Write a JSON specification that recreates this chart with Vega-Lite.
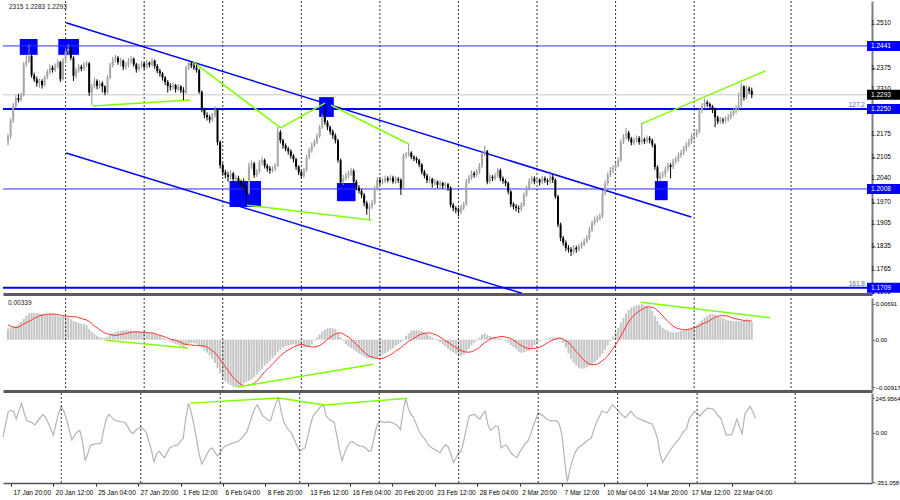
{
  "$schema": "https://vega.github.io/schema/vega-lite/v6.json",
  "background": "white",
  "padding": 0,
  "spacing": 0,
  "datasets": {
    "bars": [
      {"i":-3,"o":1.2150,"h":1.2175,"l":1.2140,"c":1.2168,"m":0.0021,"s":0.0028,"k":-30},
      {"i":-2,"o":1.2168,"h":1.2222,"l":1.2160,"c":1.2215,"m":0.0023,"s":0.0026,"k":60},
      {"i":-1,"o":1.2215,"h":1.2268,"l":1.2208,"c":1.2260,"m":0.0025,"s":0.0024,"k":150},
      {"i":0,"o":1.2260,"h":1.2292,"l":1.2252,"c":1.2283,"m":0.0027,"s":0.0023,"k":160},
      {"i":1,"o":1.2283,"h":1.2296,"l":1.2270,"c":1.2278,"m":0.0030,"s":0.0024,"k":150},
      {"i":2,"o":1.2278,"h":1.2300,"l":1.2272,"c":1.2292,"m":0.0034,"s":0.0027,"k":96},
      {"i":3,"o":1.2292,"h":1.2392,"l":1.2288,"c":1.2385,"m":0.0040,"s":0.0030,"k":160},
      {"i":4,"o":1.2385,"h":1.2412,"l":1.2378,"c":1.2395,"m":0.0046,"s":0.0033,"k":209},
      {"i":5,"o":1.2395,"h":1.2445,"l":1.2390,"c":1.2410,"m":0.0050,"s":0.0035,"k":140},
      {"i":6,"o":1.2410,"h":1.2415,"l":1.2345,"c":1.2352,"m":0.0051,"s":0.0038,"k":84},
      {"i":7,"o":1.2352,"h":1.2360,"l":1.2332,"c":1.2340,"m":0.0051,"s":0.0041,"k":78},
      {"i":8,"o":1.2340,"h":1.2348,"l":1.2318,"c":1.2328,"m":0.0051,"s":0.0043,"k":70},
      {"i":9,"o":1.2328,"h":1.2342,"l":1.2315,"c":1.2335,"m":0.0050,"s":0.0046,"k":55},
      {"i":10,"o":1.2335,"h":1.2340,"l":1.2312,"c":1.2322,"m":0.0049,"s":0.0047,"k":80},
      {"i":11,"o":1.2322,"h":1.2352,"l":1.2318,"c":1.2345,"m":0.0049,"s":0.0048,"k":105},
      {"i":12,"o":1.2345,"h":1.2370,"l":1.2340,"c":1.2362,"m":0.0049,"s":0.0049,"k":130},
      {"i":13,"o":1.2362,"h":1.2385,"l":1.2355,"c":1.2375,"m":0.0050,"s":0.0049,"k":110},
      {"i":14,"o":1.2375,"h":1.2382,"l":1.2360,"c":1.2368,"m":0.0050,"s":0.0049,"k":73},
      {"i":15,"o":1.2368,"h":1.2388,"l":1.2362,"c":1.2380,"m":0.0048,"s":0.0049,"k":30},
      {"i":16,"o":1.2380,"h":1.2400,"l":1.2372,"c":1.2392,"m":0.0046,"s":0.0048,"k":-18},
      {"i":17,"o":1.2392,"h":1.2396,"l":1.2332,"c":1.2340,"m":0.0044,"s":0.0047,"k":60},
      {"i":18,"o":1.2340,"h":1.2405,"l":1.2336,"c":1.2398,"m":0.0045,"s":0.0046,"k":140},
      {"i":19,"o":1.2398,"h":1.2436,"l":1.2390,"c":1.2425,"m":0.0046,"s":0.0045,"k":187},
      {"i":20,"o":1.2425,"h":1.2447,"l":1.2412,"c":1.2432,"m":0.0043,"s":0.0045,"k":150},
      {"i":21,"o":1.2432,"h":1.2438,"l":1.2398,"c":1.2405,"m":0.0039,"s":0.0044,"k":96},
      {"i":22,"o":1.2405,"h":1.2410,"l":1.2335,"c":1.2350,"m":0.0036,"s":0.0044,"k":20},
      {"i":23,"o":1.2350,"h":1.2375,"l":1.2342,"c":1.2368,"m":0.0034,"s":0.0044,"k":-52},
      {"i":24,"o":1.2368,"h":1.2386,"l":1.2360,"c":1.2378,"m":0.0032,"s":0.0042,"k":-20},
      {"i":25,"o":1.2378,"h":1.2384,"l":1.2364,"c":1.2372,"m":0.0031,"s":0.0041,"k":5},
      {"i":26,"o":1.2372,"h":1.2392,"l":1.2366,"c":1.2384,"m":0.0030,"s":0.0039,"k":16},
      {"i":27,"o":1.2384,"h":1.2396,"l":1.2376,"c":1.2388,"m":0.0028,"s":0.0038,"k":-60},
      {"i":28,"o":1.2388,"h":1.2392,"l":1.2290,"c":1.2300,"m":0.0020,"s":0.0035,"k":-200},
      {"i":29,"o":1.2300,"h":1.2326,"l":1.2262,"c":1.2318,"m":0.0015,"s":0.0031,"k":-150},
      {"i":30,"o":1.2318,"h":1.2345,"l":1.2312,"c":1.2335,"m":0.0011,"s":0.0026,"k":-90},
      {"i":31,"o":1.2335,"h":1.2340,"l":1.2310,"c":1.2320,"m":0.0007,"s":0.0023,"k":-85},
      {"i":32,"o":1.2320,"h":1.2336,"l":1.2312,"c":1.2328,"m":0.0005,"s":0.0019,"k":-80},
      {"i":33,"o":1.2328,"h":1.2334,"l":1.2300,"c":1.2318,"m":0.0004,"s":0.0016,"k":-78},
      {"i":34,"o":1.2318,"h":1.2322,"l":1.2292,"c":1.2300,"m":0.0004,"s":0.0013,"k":-75},
      {"i":35,"o":1.2300,"h":1.2352,"l":1.2296,"c":1.2345,"m":0.0006,"s":0.0011,"k":20},
      {"i":36,"o":1.2345,"h":1.2390,"l":1.2340,"c":1.2382,"m":0.0009,"s":0.0010,"k":100},
      {"i":37,"o":1.2382,"h":1.2408,"l":1.2376,"c":1.2398,"m":0.0012,"s":0.0009,"k":130},
      {"i":38,"o":1.2398,"h":1.2414,"l":1.2390,"c":1.2405,"m":0.0015,"s":0.0008,"k":110},
      {"i":39,"o":1.2405,"h":1.2410,"l":1.2384,"c":1.2392,"m":0.0016,"s":0.0009,"k":90},
      {"i":40,"o":1.2392,"h":1.2404,"l":1.2380,"c":1.2396,"m":0.0017,"s":0.0010,"k":84},
      {"i":41,"o":1.2396,"h":1.2400,"l":1.2368,"c":1.2378,"m":0.0018,"s":0.0011,"k":80},
      {"i":42,"o":1.2378,"h":1.2392,"l":1.2370,"c":1.2382,"m":0.0018,"s":0.0012,"k":76},
      {"i":43,"o":1.2382,"h":1.2404,"l":1.2376,"c":1.2395,"m":0.0018,"s":0.0013,"k":73},
      {"i":44,"o":1.2395,"h":1.2410,"l":1.2388,"c":1.2402,"m":0.0018,"s":0.0014,"k":45},
      {"i":45,"o":1.2402,"h":1.2406,"l":1.2378,"c":1.2385,"m":0.0017,"s":0.0015,"k":10},
      {"i":46,"o":1.2385,"h":1.2390,"l":1.2360,"c":1.2370,"m":0.0017,"s":0.0015,"k":-7},
      {"i":47,"o":1.2370,"h":1.2388,"l":1.2364,"c":1.2380,"m":0.0016,"s":0.0015,"k":15},
      {"i":48,"o":1.2380,"h":1.2396,"l":1.2374,"c":1.2388,"m":0.0015,"s":0.0014,"k":30},
      {"i":49,"o":1.2388,"h":1.2392,"l":1.2370,"c":1.2378,"m":0.0015,"s":0.0014,"k":39},
      {"i":50,"o":1.2378,"h":1.2398,"l":1.2372,"c":1.2390,"m":0.0014,"s":0.0014,"k":25},
      {"i":51,"o":1.2390,"h":1.2394,"l":1.2376,"c":1.2384,"m":0.0013,"s":0.0013,"k":5},
      {"i":52,"o":1.2384,"h":1.2404,"l":1.2378,"c":1.2396,"m":0.0013,"s":0.0013,"k":-60},
      {"i":53,"o":1.2396,"h":1.2400,"l":1.2372,"c":1.2380,"m":0.0012,"s":0.0012,"k":-121},
      {"i":54,"o":1.2380,"h":1.2386,"l":1.2358,"c":1.2365,"m":0.0010,"s":0.0010,"k":-212},
      {"i":55,"o":1.2365,"h":1.2372,"l":1.2348,"c":1.2358,"m":0.0007,"s":0.0008,"k":-150},
      {"i":56,"o":1.2358,"h":1.2362,"l":1.2336,"c":1.2345,"m":0.0004,"s":0.0007,"k":-132},
      {"i":57,"o":1.2345,"h":1.2350,"l":1.2322,"c":1.2332,"m":0.0002,"s":0.0005,"k":-160},
      {"i":58,"o":1.2332,"h":1.2338,"l":1.2300,"c":1.2320,"m":-0.0001,"s":0.0003,"k":-178},
      {"i":59,"o":1.2320,"h":1.2328,"l":1.2306,"c":1.2316,"m":-0.0004,"s":0.0001,"k":-140},
      {"i":60,"o":1.2316,"h":1.2330,"l":1.2308,"c":1.2322,"m":-0.0006,"s":0.0000,"k":-105},
      {"i":61,"o":1.2322,"h":1.2326,"l":1.2300,"c":1.2310,"m":-0.0008,"s":-0.0001,"k":-98},
      {"i":62,"o":1.2310,"h":1.2326,"l":1.2304,"c":1.2318,"m":-0.0010,"s":-0.0003,"k":-90},
      {"i":63,"o":1.2318,"h":1.2322,"l":1.2298,"c":1.2306,"m":-0.0012,"s":-0.0005,"k":-87},
      {"i":64,"o":1.2306,"h":1.2316,"l":1.2277,"c":1.2300,"m":-0.0014,"s":-0.0008,"k":-60},
      {"i":65,"o":1.2300,"h":1.2382,"l":1.2295,"c":1.2375,"m":-0.0011,"s":-0.0009,"k":-41},
      {"i":66,"o":1.2375,"h":1.2395,"l":1.2368,"c":1.2388,"m":-0.0008,"s":-0.0010,"k":100},
      {"i":67,"o":1.2388,"h":1.2394,"l":1.2374,"c":1.2382,"m":-0.0007,"s":-0.0010,"k":209},
      {"i":68,"o":1.2382,"h":1.2390,"l":1.2368,"c":1.2376,"m":-0.0006,"s":-0.0011,"k":150},
      {"i":69,"o":1.2376,"h":1.2384,"l":1.2360,"c":1.2368,"m":-0.0008,"s":-0.0011,"k":60},
      {"i":70,"o":1.2368,"h":1.2372,"l":1.2296,"c":1.2302,"m":-0.0011,"s":-0.0011,"k":-40},
      {"i":71,"o":1.2302,"h":1.2306,"l":1.2240,"c":1.2248,"m":-0.0015,"s":-0.0012,"k":-150},
      {"i":72,"o":1.2248,"h":1.2254,"l":1.2222,"c":1.2232,"m":-0.0020,"s":-0.0012,"k":-223},
      {"i":73,"o":1.2232,"h":1.2240,"l":1.2215,"c":1.2225,"m":-0.0025,"s":-0.0014,"k":-190},
      {"i":74,"o":1.2225,"h":1.2232,"l":1.2208,"c":1.2218,"m":-0.0030,"s":-0.0017,"k":-150},
      {"i":75,"o":1.2218,"h":1.2238,"l":1.2212,"c":1.2230,"m":-0.0037,"s":-0.0021,"k":-120},
      {"i":76,"o":1.2230,"h":1.2258,"l":1.2224,"c":1.2248,"m":-0.0045,"s":-0.0025,"k":-109},
      {"i":77,"o":1.2248,"h":1.2252,"l":1.2140,"c":1.2150,"m":-0.0055,"s":-0.0031,"k":-140},
      {"i":78,"o":1.2150,"h":1.2155,"l":1.2070,"c":1.2080,"m":-0.0065,"s":-0.0038,"k":-166},
      {"i":79,"o":1.2080,"h":1.2086,"l":1.2048,"c":1.2058,"m":-0.0073,"s":-0.0045,"k":-140},
      {"i":80,"o":1.2058,"h":1.2066,"l":1.2040,"c":1.2050,"m":-0.0080,"s":-0.0052,"k":-110},
      {"i":81,"o":1.2050,"h":1.2060,"l":1.2030,"c":1.2045,"m":-0.0084,"s":-0.0059,"k":-95},
      {"i":82,"o":1.2045,"h":1.2064,"l":1.2036,"c":1.2055,"m":-0.0087,"s":-0.0066,"k":-87},
      {"i":83,"o":1.2055,"h":1.2060,"l":1.2026,"c":1.2038,"m":-0.0090,"s":-0.0073,"k":-80},
      {"i":84,"o":1.2038,"h":1.2050,"l":1.2030,"c":1.2042,"m":-0.0091,"s":-0.0078,"k":-72},
      {"i":85,"o":1.2042,"h":1.2048,"l":1.2020,"c":1.2030,"m":-0.0090,"s":-0.0082,"k":-66},
      {"i":86,"o":1.2030,"h":1.2036,"l":1.2012,"c":1.2022,"m":-0.0088,"s":-0.0086,"k":-60},
      {"i":87,"o":1.2022,"h":1.2040,"l":1.2005,"c":1.2015,"m":-0.0084,"s":-0.0088,"k":-40},
      {"i":88,"o":1.2015,"h":1.2020,"l":1.1960,"c":1.1995,"m":-0.0081,"s":-0.0088,"k":-20},
      {"i":89,"o":1.1995,"h":1.2088,"l":1.1990,"c":1.2075,"m":-0.0079,"s":-0.0087,"k":5},
      {"i":90,"o":1.2075,"h":1.2094,"l":1.2068,"c":1.2085,"m":-0.0076,"s":-0.0086,"k":60},
      {"i":91,"o":1.2085,"h":1.2090,"l":1.2042,"c":1.2050,"m":-0.0072,"s":-0.0084,"k":120},
      {"i":92,"o":1.2050,"h":1.2068,"l":1.2044,"c":1.2060,"m":-0.0067,"s":-0.0079,"k":170},
      {"i":93,"o":1.2060,"h":1.2096,"l":1.2055,"c":1.2088,"m":-0.0061,"s":-0.0074,"k":198},
      {"i":94,"o":1.2088,"h":1.2104,"l":1.2080,"c":1.2095,"m":-0.0056,"s":-0.0068,"k":160},
      {"i":95,"o":1.2095,"h":1.2100,"l":1.2070,"c":1.2078,"m":-0.0050,"s":-0.0062,"k":120},
      {"i":96,"o":1.2078,"h":1.2084,"l":1.2060,"c":1.2070,"m":-0.0046,"s":-0.0057,"k":107},
      {"i":97,"o":1.2070,"h":1.2078,"l":1.2054,"c":1.2064,"m":-0.0041,"s":-0.0052,"k":90},
      {"i":98,"o":1.2064,"h":1.2076,"l":1.2058,"c":1.2068,"m":-0.0036,"s":-0.0047,"k":84},
      {"i":99,"o":1.2068,"h":1.2086,"l":1.2062,"c":1.2078,"m":-0.0030,"s":-0.0042,"k":150},
      {"i":100,"o":1.2078,"h":1.2195,"l":1.2074,"c":1.2180,"m":-0.0024,"s":-0.0036,"k":210},
      {"i":101,"o":1.2180,"h":1.2186,"l":1.2146,"c":1.2155,"m":-0.0019,"s":-0.0031,"k":246},
      {"i":102,"o":1.2155,"h":1.2160,"l":1.2130,"c":1.2140,"m":-0.0015,"s":-0.0027,"k":150},
      {"i":103,"o":1.2140,"h":1.2146,"l":1.2122,"c":1.2130,"m":-0.0012,"s":-0.0023,"k":73},
      {"i":104,"o":1.2130,"h":1.2136,"l":1.2112,"c":1.2122,"m":-0.0011,"s":-0.0020,"k":40},
      {"i":105,"o":1.2122,"h":1.2128,"l":1.2100,"c":1.2108,"m":-0.0010,"s":-0.0017,"k":15},
      {"i":106,"o":1.2108,"h":1.2114,"l":1.2088,"c":1.2098,"m":-0.0009,"s":-0.0014,"k":-7},
      {"i":107,"o":1.2098,"h":1.2102,"l":1.2066,"c":1.2075,"m":-0.0010,"s":-0.0012,"k":-50},
      {"i":108,"o":1.2075,"h":1.2080,"l":1.2050,"c":1.2058,"m":-0.0012,"s":-0.0010,"k":-95},
      {"i":109,"o":1.2058,"h":1.2064,"l":1.2040,"c":1.2048,"m":-0.0013,"s":-0.0009,"k":-132},
      {"i":110,"o":1.2048,"h":1.2072,"l":1.2042,"c":1.2065,"m":-0.0014,"s":-0.0010,"k":-120},
      {"i":111,"o":1.2065,"h":1.2112,"l":1.2060,"c":1.2105,"m":-0.0014,"s":-0.0012,"k":-109},
      {"i":112,"o":1.2105,"h":1.2132,"l":1.2098,"c":1.2125,"m":-0.0012,"s":-0.0013,"k":-30},
      {"i":113,"o":1.2125,"h":1.2148,"l":1.2118,"c":1.2140,"m":-0.0009,"s":-0.0014,"k":50},
      {"i":114,"o":1.2140,"h":1.2158,"l":1.2134,"c":1.2150,"m":-0.0002,"s":-0.0014,"k":118},
      {"i":115,"o":1.2150,"h":1.2176,"l":1.2144,"c":1.2168,"m":0.0004,"s":-0.0013,"k":140},
      {"i":116,"o":1.2168,"h":1.2202,"l":1.2162,"c":1.2195,"m":0.0010,"s":-0.0011,"k":165},
      {"i":117,"o":1.2195,"h":1.2236,"l":1.2190,"c":1.2228,"m":0.0016,"s":-0.0008,"k":187},
      {"i":118,"o":1.2228,"h":1.2265,"l":1.2202,"c":1.2210,"m":0.0019,"s":-0.0004,"k":196},
      {"i":119,"o":1.2210,"h":1.2216,"l":1.2186,"c":1.2195,"m":0.0022,"s":0.0001,"k":120},
      {"i":120,"o":1.2195,"h":1.2200,"l":1.2172,"c":1.2182,"m":0.0022,"s":0.0005,"k":96},
      {"i":121,"o":1.2182,"h":1.2188,"l":1.2160,"c":1.2170,"m":0.0022,"s":0.0008,"k":85},
      {"i":122,"o":1.2170,"h":1.2176,"l":1.2146,"c":1.2155,"m":0.0020,"s":0.0011,"k":73},
      {"i":123,"o":1.2155,"h":1.2160,"l":1.2088,"c":1.2095,"m":0.0012,"s":0.0013,"k":-20},
      {"i":124,"o":1.2095,"h":1.2100,"l":1.2018,"c":1.2028,"m":0.0005,"s":0.0013,"k":-120},
      {"i":125,"o":1.2028,"h":1.2050,"l":1.2020,"c":1.2040,"m":-0.0002,"s":0.0011,"k":-200},
      {"i":126,"o":1.2040,"h":1.2058,"l":1.2034,"c":1.2048,"m":-0.0008,"s":0.0008,"k":-140},
      {"i":127,"o":1.2048,"h":1.2064,"l":1.2040,"c":1.2055,"m":-0.0013,"s":0.0005,"k":-100},
      {"i":128,"o":1.2055,"h":1.2072,"l":1.2048,"c":1.2062,"m":-0.0016,"s":0.0001,"k":-70},
      {"i":129,"o":1.2062,"h":1.2068,"l":1.2022,"c":1.2030,"m":-0.0019,"s":-0.0004,"k":-64},
      {"i":130,"o":1.2030,"h":1.2036,"l":1.2004,"c":1.2012,"m":-0.0023,"s":-0.0009,"k":-80},
      {"i":131,"o":1.2012,"h":1.2020,"l":1.1994,"c":1.2002,"m":-0.0026,"s":-0.0014,"k":-91},
      {"i":132,"o":1.2002,"h":1.2008,"l":1.1980,"c":1.1990,"m":-0.0029,"s":-0.0019,"k":-95},
      {"i":133,"o":1.1990,"h":1.1996,"l":1.1955,"c":1.1965,"m":-0.0032,"s":-0.0024,"k":-98},
      {"i":134,"o":1.1965,"h":1.1972,"l":1.1930,"c":1.1948,"m":-0.0035,"s":-0.0028,"k":-110},
      {"i":135,"o":1.1948,"h":1.1964,"l":1.1914,"c":1.1955,"m":-0.0036,"s":-0.0032,"k":-132},
      {"i":136,"o":1.1955,"h":1.1974,"l":1.1948,"c":1.1965,"m":-0.0036,"s":-0.0033,"k":-125},
      {"i":137,"o":1.1965,"h":1.2018,"l":1.1960,"c":1.2010,"m":-0.0036,"s":-0.0035,"k":-40},
      {"i":138,"o":1.2010,"h":1.2044,"l":1.2004,"c":1.2035,"m":-0.0035,"s":-0.0036,"k":40},
      {"i":139,"o":1.2035,"h":1.2042,"l":1.2020,"c":1.2028,"m":-0.0032,"s":-0.0036,"k":84},
      {"i":140,"o":1.2028,"h":1.2040,"l":1.2022,"c":1.2032,"m":-0.0029,"s":-0.0036,"k":78},
      {"i":141,"o":1.2032,"h":1.2048,"l":1.2026,"c":1.2040,"m":-0.0026,"s":-0.0034,"k":73},
      {"i":142,"o":1.2040,"h":1.2046,"l":1.2028,"c":1.2035,"m":-0.0023,"s":-0.0032,"k":75},
      {"i":143,"o":1.2035,"h":1.2050,"l":1.2030,"c":1.2042,"m":-0.0019,"s":-0.0029,"k":77},
      {"i":144,"o":1.2042,"h":1.2048,"l":1.2024,"c":1.2030,"m":-0.0016,"s":-0.0026,"k":70},
      {"i":145,"o":1.2030,"h":1.2046,"l":1.2024,"c":1.2038,"m":-0.0012,"s":-0.0022,"k":60},
      {"i":146,"o":1.2038,"h":1.2044,"l":1.2026,"c":1.2035,"m":-0.0009,"s":-0.0019,"k":50},
      {"i":147,"o":1.2035,"h":1.2040,"l":1.1990,"c":1.2010,"m":-0.0005,"s":-0.0015,"k":20},
      {"i":148,"o":1.2010,"h":1.2116,"l":1.2006,"c":1.2108,"m":0.0001,"s":-0.0011,"k":150},
      {"i":149,"o":1.2108,"h":1.2120,"l":1.2100,"c":1.2112,"m":0.0007,"s":-0.0007,"k":244},
      {"i":150,"o":1.2112,"h":1.2144,"l":1.2106,"c":1.2118,"m":0.0012,"s":-0.0003,"k":170},
      {"i":151,"o":1.2118,"h":1.2122,"l":1.2098,"c":1.2105,"m":0.0017,"s":-0.0001,"k":130},
      {"i":152,"o":1.2105,"h":1.2110,"l":1.2092,"c":1.2100,"m":0.0018,"s":0.0003,"k":107},
      {"i":153,"o":1.2100,"h":1.2106,"l":1.2086,"c":1.2095,"m":0.0018,"s":0.0006,"k":60},
      {"i":154,"o":1.2095,"h":1.2100,"l":1.2074,"c":1.2082,"m":0.0017,"s":0.0009,"k":10},
      {"i":155,"o":1.2082,"h":1.2086,"l":1.2052,"c":1.2060,"m":0.0016,"s":0.0011,"k":-20},
      {"i":156,"o":1.2060,"h":1.2066,"l":1.2040,"c":1.2048,"m":0.0014,"s":0.0012,"k":-41},
      {"i":157,"o":1.2048,"h":1.2054,"l":1.2026,"c":1.2035,"m":0.0011,"s":0.0013,"k":-70},
      {"i":158,"o":1.2035,"h":1.2046,"l":1.2028,"c":1.2038,"m":0.0007,"s":0.0013,"k":-95},
      {"i":159,"o":1.2038,"h":1.2042,"l":1.2012,"c":1.2025,"m":0.0004,"s":0.0012,"k":-109},
      {"i":160,"o":1.2025,"h":1.2038,"l":1.2018,"c":1.2030,"m":0.0001,"s":0.0010,"k":-120},
      {"i":161,"o":1.2030,"h":1.2034,"l":1.2010,"c":1.2020,"m":-0.0002,"s":0.0008,"k":-132},
      {"i":162,"o":1.2020,"h":1.2034,"l":1.2012,"c":1.2026,"m":-0.0005,"s":0.0005,"k":-143},
      {"i":163,"o":1.2026,"h":1.2030,"l":1.2008,"c":1.2018,"m":-0.0009,"s":0.0002,"k":-110},
      {"i":164,"o":1.2018,"h":1.2030,"l":1.2010,"c":1.2022,"m":-0.0013,"s":-0.0002,"k":-87},
      {"i":165,"o":1.2022,"h":1.2026,"l":1.2002,"c":1.2012,"m":-0.0017,"s":-0.0005,"k":-100},
      {"i":166,"o":1.2012,"h":1.2016,"l":1.1952,"c":1.1960,"m":-0.0021,"s":-0.0008,"k":-150},
      {"i":167,"o":1.1960,"h":1.1966,"l":1.1940,"c":1.1950,"m":-0.0024,"s":-0.0012,"k":-212},
      {"i":168,"o":1.1950,"h":1.1956,"l":1.1934,"c":1.1945,"m":-0.0027,"s":-0.0015,"k":-180},
      {"i":169,"o":1.1945,"h":1.1952,"l":1.1925,"c":1.1940,"m":-0.0030,"s":-0.0018,"k":-140},
      {"i":170,"o":1.1940,"h":1.1960,"l":1.1932,"c":1.1952,"m":-0.0031,"s":-0.0021,"k":-132},
      {"i":171,"o":1.1952,"h":1.1970,"l":1.1944,"c":1.1962,"m":-0.0029,"s":-0.0023,"k":-50},
      {"i":172,"o":1.1962,"h":1.2038,"l":1.1958,"c":1.2030,"m":-0.0023,"s":-0.0024,"k":40},
      {"i":173,"o":1.2030,"h":1.2050,"l":1.2024,"c":1.2042,"m":-0.0017,"s":-0.0024,"k":118},
      {"i":174,"o":1.2042,"h":1.2064,"l":1.2036,"c":1.2055,"m":-0.0011,"s":-0.0023,"k":125},
      {"i":175,"o":1.2055,"h":1.2062,"l":1.2042,"c":1.2050,"m":-0.0006,"s":-0.0021,"k":130},
      {"i":176,"o":1.2050,"h":1.2068,"l":1.2044,"c":1.2060,"m":-0.0002,"s":-0.0018,"k":110},
      {"i":177,"o":1.2060,"h":1.2086,"l":1.2054,"c":1.2078,"m":0.0004,"s":-0.0015,"k":96},
      {"i":178,"o":1.2078,"h":1.2124,"l":1.2072,"c":1.2115,"m":0.0010,"s":-0.0010,"k":130},
      {"i":179,"o":1.2115,"h":1.2138,"l":1.2108,"c":1.2122,"m":0.0012,"s":-0.0006,"k":153},
      {"i":180,"o":1.2122,"h":1.2126,"l":1.2022,"c":1.2030,"m":0.0009,"s":-0.0003,"k":60},
      {"i":181,"o":1.2030,"h":1.2052,"l":1.2024,"c":1.2045,"m":0.0007,"s":0.0001,"k":16},
      {"i":182,"o":1.2045,"h":1.2050,"l":1.2032,"c":1.2040,"m":0.0005,"s":0.0003,"k":30},
      {"i":183,"o":1.2040,"h":1.2056,"l":1.2034,"c":1.2048,"m":0.0004,"s":0.0004,"k":50},
      {"i":184,"o":1.2048,"h":1.2072,"l":1.2042,"c":1.2065,"m":0.0003,"s":0.0005,"k":40},
      {"i":185,"o":1.2065,"h":1.2070,"l":1.2032,"c":1.2040,"m":0.0003,"s":0.0006,"k":-109},
      {"i":186,"o":1.2040,"h":1.2046,"l":1.2024,"c":1.2032,"m":0.0000,"s":0.0006,"k":-95},
      {"i":187,"o":1.2032,"h":1.2038,"l":1.2016,"c":1.2025,"m":-0.0003,"s":0.0005,"k":-87},
      {"i":188,"o":1.2025,"h":1.2030,"l":1.1992,"c":1.2000,"m":-0.0006,"s":0.0004,"k":-120},
      {"i":189,"o":1.2000,"h":1.2004,"l":1.1954,"c":1.1962,"m":-0.0010,"s":0.0002,"k":-150},
      {"i":190,"o":1.1962,"h":1.1968,"l":1.1946,"c":1.1955,"m":-0.0014,"s":-0.0001,"k":-165},
      {"i":191,"o":1.1955,"h":1.1962,"l":1.1940,"c":1.1950,"m":-0.0018,"s":-0.0004,"k":-178},
      {"i":192,"o":1.1950,"h":1.1958,"l":1.1935,"c":1.1948,"m":-0.0023,"s":-0.0008,"k":-140},
      {"i":193,"o":1.1948,"h":1.1968,"l":1.1940,"c":1.1960,"m":-0.0025,"s":-0.0011,"k":-110},
      {"i":194,"o":1.1960,"h":1.1998,"l":1.1954,"c":1.1990,"m":-0.0024,"s":-0.0014,"k":-80},
      {"i":195,"o":1.1990,"h":1.2018,"l":1.1984,"c":1.2010,"m":-0.0022,"s":-0.0016,"k":-64},
      {"i":196,"o":1.2010,"h":1.2040,"l":1.2004,"c":1.2032,"m":-0.0021,"s":-0.0017,"k":-20},
      {"i":197,"o":1.2032,"h":1.2048,"l":1.2024,"c":1.2040,"m":-0.0016,"s":-0.0017,"k":39},
      {"i":198,"o":1.2040,"h":1.2046,"l":1.2022,"c":1.2030,"m":-0.0011,"s":-0.0017,"k":90},
      {"i":199,"o":1.2030,"h":1.2044,"l":1.2024,"c":1.2036,"m":-0.0006,"s":-0.0016,"k":141},
      {"i":200,"o":1.2036,"h":1.2040,"l":1.2018,"c":1.2028,"m":-0.0003,"s":-0.0015,"k":130},
      {"i":201,"o":1.2028,"h":1.2048,"l":1.2022,"c":1.2040,"m":-0.0001,"s":-0.0012,"k":118},
      {"i":202,"o":1.2040,"h":1.2046,"l":1.2026,"c":1.2034,"m":0.0001,"s":-0.0009,"k":100},
      {"i":203,"o":1.2034,"h":1.2040,"l":1.2020,"c":1.2030,"m":0.0002,"s":-0.0006,"k":90},
      {"i":204,"o":1.2030,"h":1.2062,"l":1.2024,"c":1.2045,"m":0.0004,"s":-0.0003,"k":84},
      {"i":205,"o":1.2045,"h":1.2052,"l":1.2026,"c":1.2035,"m":0.0004,"s":-0.0001,"k":84},
      {"i":206,"o":1.2035,"h":1.2040,"l":1.1978,"c":1.1985,"m":0.0004,"s":0.0001,"k":84},
      {"i":207,"o":1.1985,"h":1.1990,"l":1.1892,"c":1.1900,"m":0.0003,"s":0.0003,"k":60},
      {"i":208,"o":1.1900,"h":1.1906,"l":1.1850,"c":1.1860,"m":0.0003,"s":0.0003,"k":-18},
      {"i":209,"o":1.1860,"h":1.1866,"l":1.1836,"c":1.1845,"m":-0.0006,"s":0.0001,"k":-200},
      {"i":210,"o":1.1845,"h":1.1852,"l":1.1820,"c":1.1830,"m":-0.0015,"s":-0.0002,"k":-351},
      {"i":211,"o":1.1830,"h":1.1838,"l":1.1815,"c":1.1825,"m":-0.0026,"s":-0.0005,"k":-260},
      {"i":212,"o":1.1825,"h":1.1832,"l":1.1805,"c":1.1818,"m":-0.0037,"s":-0.0011,"k":-190},
      {"i":213,"o":1.1818,"h":1.1838,"l":1.1810,"c":1.1830,"m":-0.0044,"s":-0.0017,"k":-140},
      {"i":214,"o":1.1830,"h":1.1836,"l":1.1815,"c":1.1825,"m":-0.0050,"s":-0.0023,"k":-109},
      {"i":215,"o":1.1825,"h":1.1842,"l":1.1818,"c":1.1835,"m":-0.0054,"s":-0.0028,"k":-95},
      {"i":216,"o":1.1835,"h":1.1848,"l":1.1828,"c":1.1840,"m":-0.0056,"s":-0.0034,"k":-80},
      {"i":217,"o":1.1840,"h":1.1858,"l":1.1834,"c":1.1850,"m":-0.0055,"s":-0.0040,"k":-65},
      {"i":218,"o":1.1850,"h":1.1868,"l":1.1844,"c":1.1860,"m":-0.0053,"s":-0.0044,"k":-50},
      {"i":219,"o":1.1860,"h":1.1894,"l":1.1854,"c":1.1885,"m":-0.0050,"s":-0.0047,"k":-41},
      {"i":220,"o":1.1885,"h":1.1912,"l":1.1878,"c":1.1905,"m":-0.0047,"s":-0.0048,"k":20},
      {"i":221,"o":1.1905,"h":1.1924,"l":1.1898,"c":1.1915,"m":-0.0043,"s":-0.0048,"k":73},
      {"i":222,"o":1.1915,"h":1.1928,"l":1.1906,"c":1.1920,"m":-0.0039,"s":-0.0047,"k":110},
      {"i":223,"o":1.1920,"h":1.1934,"l":1.1912,"c":1.1925,"m":-0.0033,"s":-0.0044,"k":153},
      {"i":224,"o":1.1925,"h":1.2004,"l":1.1920,"c":1.1995,"m":-0.0027,"s":-0.0040,"k":147},
      {"i":225,"o":1.1995,"h":1.2034,"l":1.1988,"c":1.2025,"m":-0.0019,"s":-0.0036,"k":141},
      {"i":226,"o":1.2025,"h":1.2058,"l":1.2018,"c":1.2050,"m":-0.0011,"s":-0.0031,"k":170},
      {"i":227,"o":1.2050,"h":1.2074,"l":1.2044,"c":1.2065,"m":-0.0003,"s":-0.0024,"k":198},
      {"i":228,"o":1.2065,"h":1.2080,"l":1.2056,"c":1.2072,"m":0.0006,"s":-0.0017,"k":180},
      {"i":229,"o":1.2072,"h":1.2088,"l":1.2064,"c":1.2080,"m":0.0014,"s":-0.0010,"k":160},
      {"i":230,"o":1.2080,"h":1.2104,"l":1.2074,"c":1.2095,"m":0.0023,"s":-0.0002,"k":141},
      {"i":231,"o":1.2095,"h":1.2158,"l":1.2090,"c":1.2150,"m":0.0033,"s":0.0007,"k":120},
      {"i":232,"o":1.2150,"h":1.2174,"l":1.2144,"c":1.2165,"m":0.0042,"s":0.0016,"k":107},
      {"i":233,"o":1.2165,"h":1.2193,"l":1.2158,"c":1.2178,"m":0.0050,"s":0.0026,"k":130},
      {"i":234,"o":1.2178,"h":1.2184,"l":1.2152,"c":1.2160,"m":0.0057,"s":0.0034,"k":153},
      {"i":235,"o":1.2160,"h":1.2166,"l":1.2140,"c":1.2148,"m":0.0062,"s":0.0041,"k":130},
      {"i":236,"o":1.2148,"h":1.2164,"l":1.2140,"c":1.2155,"m":0.0064,"s":0.0047,"k":107},
      {"i":237,"o":1.2155,"h":1.2170,"l":1.2148,"c":1.2162,"m":0.0066,"s":0.0051,"k":100},
      {"i":238,"o":1.2162,"h":1.2168,"l":1.2142,"c":1.2150,"m":0.0067,"s":0.0055,"k":92},
      {"i":239,"o":1.2150,"h":1.2205,"l":1.2142,"c":1.2158,"m":0.0068,"s":0.0058,"k":84},
      {"i":240,"o":1.2158,"h":1.2164,"l":1.2144,"c":1.2152,"m":0.0066,"s":0.0061,"k":75},
      {"i":241,"o":1.2152,"h":1.2170,"l":1.2146,"c":1.2162,"m":0.0064,"s":0.0063,"k":68},
      {"i":242,"o":1.2162,"h":1.2168,"l":1.2146,"c":1.2155,"m":0.0061,"s":0.0063,"k":62},
      {"i":243,"o":1.2155,"h":1.2160,"l":1.2134,"c":1.2142,"m":0.0055,"s":0.0062,"k":20},
      {"i":244,"o":1.2142,"h":1.2146,"l":1.2066,"c":1.2075,"m":0.0045,"s":0.0060,"k":-41},
      {"i":245,"o":1.2075,"h":1.2080,"l":1.2020,"c":1.2040,"m":0.0036,"s":0.0056,"k":-150},
      {"i":246,"o":1.2040,"h":1.2058,"l":1.2030,"c":1.2048,"m":0.0028,"s":0.0051,"k":-212},
      {"i":247,"o":1.2048,"h":1.2062,"l":1.2040,"c":1.2052,"m":0.0023,"s":0.0046,"k":-180},
      {"i":248,"o":1.2052,"h":1.2076,"l":1.2044,"c":1.2068,"m":0.0019,"s":0.0040,"k":-150},
      {"i":249,"o":1.2068,"h":1.2088,"l":1.2060,"c":1.2080,"m":0.0017,"s":0.0035,"k":-121},
      {"i":250,"o":1.2080,"h":1.2086,"l":1.2040,"c":1.2075,"m":0.0015,"s":0.0030,"k":-95},
      {"i":251,"o":1.2075,"h":1.2100,"l":1.2068,"c":1.2092,"m":0.0014,"s":0.0026,"k":-70},
      {"i":252,"o":1.2092,"h":1.2106,"l":1.2084,"c":1.2098,"m":0.0014,"s":0.0023,"k":-50},
      {"i":253,"o":1.2098,"h":1.2118,"l":1.2090,"c":1.2110,"m":0.0015,"s":0.0021,"k":-20},
      {"i":254,"o":1.2110,"h":1.2126,"l":1.2102,"c":1.2118,"m":0.0017,"s":0.0020,"k":10},
      {"i":255,"o":1.2118,"h":1.2138,"l":1.2110,"c":1.2130,"m":0.0018,"s":0.0019,"k":27},
      {"i":256,"o":1.2130,"h":1.2150,"l":1.2122,"c":1.2142,"m":0.0020,"s":0.0019,"k":100},
      {"i":257,"o":1.2142,"h":1.2160,"l":1.2134,"c":1.2150,"m":0.0021,"s":0.0020,"k":125},
      {"i":258,"o":1.2150,"h":1.2176,"l":1.2144,"c":1.2168,"m":0.0024,"s":0.0021,"k":153},
      {"i":259,"o":1.2168,"h":1.2182,"l":1.2156,"c":1.2172,"m":0.0026,"s":0.0023,"k":135},
      {"i":260,"o":1.2172,"h":1.2190,"l":1.2164,"c":1.2180,"m":0.0029,"s":0.0024,"k":118},
      {"i":261,"o":1.2180,"h":1.2252,"l":1.2176,"c":1.2245,"m":0.0033,"s":0.0027,"k":140},
      {"i":262,"o":1.2245,"h":1.2268,"l":1.2238,"c":1.2260,"m":0.0037,"s":0.0030,"k":160},
      {"i":263,"o":1.2260,"h":1.2282,"l":1.2252,"c":1.2270,"m":0.0042,"s":0.0032,"k":175},
      {"i":264,"o":1.2270,"h":1.2276,"l":1.2256,"c":1.2265,"m":0.0046,"s":0.0034,"k":172},
      {"i":265,"o":1.2265,"h":1.2270,"l":1.2248,"c":1.2258,"m":0.0049,"s":0.0037,"k":168},
      {"i":266,"o":1.2258,"h":1.2262,"l":1.2238,"c":1.2250,"m":0.0049,"s":0.0040,"k":145},
      {"i":267,"o":1.2250,"h":1.2254,"l":1.2195,"c":1.2225,"m":0.0048,"s":0.0043,"k":120},
      {"i":268,"o":1.2225,"h":1.2230,"l":1.2204,"c":1.2212,"m":0.0045,"s":0.0045,"k":100},
      {"i":269,"o":1.2212,"h":1.2226,"l":1.2206,"c":1.2218,"m":0.0043,"s":0.0046,"k":40},
      {"i":270,"o":1.2218,"h":1.2224,"l":1.2206,"c":1.2215,"m":0.0041,"s":0.0046,"k":-18},
      {"i":271,"o":1.2215,"h":1.2228,"l":1.2208,"c":1.2220,"m":0.0039,"s":0.0046,"k":-16},
      {"i":272,"o":1.2220,"h":1.2234,"l":1.2212,"c":1.2225,"m":0.0037,"s":0.0045,"k":-14},
      {"i":273,"o":1.2225,"h":1.2244,"l":1.2218,"c":1.2235,"m":0.0036,"s":0.0043,"k":40},
      {"i":274,"o":1.2235,"h":1.2254,"l":1.2228,"c":1.2245,"m":0.0035,"s":0.0041,"k":96},
      {"i":275,"o":1.2245,"h":1.2262,"l":1.2236,"c":1.2252,"m":0.0035,"s":0.0040,"k":40},
      {"i":276,"o":1.2252,"h":1.2300,"l":1.2246,"c":1.2262,"m":0.0035,"s":0.0039,"k":-7},
      {"i":277,"o":1.2262,"h":1.2329,"l":1.2256,"c":1.2318,"m":0.0036,"s":0.0038,"k":130},
      {"i":278,"o":1.2318,"h":1.2322,"l":1.2276,"c":1.2285,"m":0.0038,"s":0.0037,"k":160},
      {"i":279,"o":1.2285,"h":1.2320,"l":1.2280,"c":1.2312,"m":0.0040,"s":0.0036,"k":187},
      {"i":280,"o":1.2312,"h":1.2318,"l":1.2296,"c":1.2305,"m":0.0037,"s":0.0036,"k":150},
      {"i":281,"o":1.2305,"h":1.2315,"l":1.2283,"c":1.2293,"m":0.0034,"s":0.0036,"k":100}
    ],
    "grid": [{"g":19},{"g":49},{"g":79},{"g":109},{"g":139},{"g":169},{"g":199},{"g":229},{"g":259},{"g":296}],
    "priceTicks": [
      {"p":1.2510},{"p":1.2375},{"p":1.2310},{"p":1.2240},{"p":1.2175},{"p":1.2105},
      {"p":1.2040},{"p":1.1970},{"p":1.1905},{"p":1.1835},{"p":1.1765},{"p":1.1695}
    ],
    "levels": [
      {"p":1.2441,"kind":"level"},
      {"p":1.2250,"kind":"fibo","f":"127.2"},
      {"p":1.2008,"kind":"level"},
      {"p":1.1709,"kind":"fibo","f":"161.8"},
      {"p":1.2293,"kind":"price"}
    ],
    "boxes": [
      {"i1":1.5,"i2":8.3,"p1":1.2414,"p2":1.2462},
      {"i1":16.2,"i2":24.1,"p1":1.2414,"p2":1.2462},
      {"i1":115.8,"i2":121.4,"p1":1.2226,"p2":1.2286},
      {"i1":81.6,"i2":93.6,"p1":1.1953,"p2":1.2032},
      {"i1":122.6,"i2":129.7,"p1":1.1971,"p2":1.2026},
      {"i1":244,"i2":248.9,"p1":1.1974,"p2":1.2032}
    ],
    "chan": [
      {"g":"up","i":19.2,"p":1.2511},{"g":"up","i":257.9,"p":1.1923},
      {"g":"lo","i":19.2,"p":1.2117},{"g":"lo","i":193.2,"p":1.1692}
    ],
    "green": [
      {"g":"a","i":29.3,"p":1.2259},{"g":"a","i":66.5,"p":1.2277},
      {"g":"b","i":67.7,"p":1.2393},{"g":"b","i":101.1,"p":1.2193},{"g":"b","i":118,"p":1.2268},
      {"g":"c","i":120.3,"p":1.2262},{"g":"c","i":150,"p":1.2144},
      {"g":"d","i":88.3,"p":1.1959},{"g":"d","i":135.7,"p":1.1914},
      {"g":"e","i":238.7,"p":1.2205},{"g":"e","i":286.1,"p":1.2365}
    ],
    "macdGreen": [
      {"g":"a","i":34.2,"v":-0.0001},{"g":"a","i":65.8,"v":-0.0016},
      {"g":"b","i":84.6,"v":-0.0091},{"g":"b","i":136.5,"v":-0.0047},
      {"g":"c","i":238.7,"v":0.0072},{"g":"c","i":288,"v":0.0042}
    ],
    "cciGreen": [
      {"i":67.7,"k":210},{"i":101.1,"k":246},{"i":118.4,"k":196},{"i":149.6,"k":244}
    ]
  },
  "vconcat": [
    {
      "width": 869,
      "height": 293,
      "layer": [
        {
          "data": {"name": "priceTicks"},
          "mark": {"type": "text", "align": "left", "baseline": "middle", "dx": 4, "fontSize": 6.5, "color": "#000000"},
          "encoding": {
            "x": {
              "datum": 325, "type": "quantitative",
              "scale": {"domain": [-3, 325], "nice": false, "zero": false},
              "axis": {"title": null, "labels": false, "ticks": false, "domainWidth": 3, "domainColor": "#5a5a5a"}
            },
            "y": {
              "field": "p", "type": "quantitative", "title": null,
              "scale": {"domain": [1.169, 1.2577], "nice": false, "zero": false},
              "axis": {
                "title": null, "orient": "right", "labels": false,
                "values": [1.2510, 1.2375, 1.2310, 1.2240, 1.2175, 1.2105, 1.2040, 1.1970, 1.1905, 1.1835, 1.1765, 1.1695],
                "tickSize": 2, "domainWidth": 2, "domainColor": "#808080"
              }
            },
            "text": {"field": "p", "type": "quantitative", "format": ".4f"}
          }
        },
        {
          "data": {"name": "grid"},
          "mark": {"type": "rule", "strokeDash": [2, 2], "color": "#333333", "strokeWidth": 1},
          "encoding": {
            "x": {"field": "g", "type": "quantitative", "title": null, "scale": {"domain": [-3, 325], "nice": false, "zero": false}}
          }
        },
        {
          "data": {"name": "boxes"},
          "mark": {"type": "rect", "color": "#0000ff"},
          "encoding": {
            "x": {"field": "i1", "type": "quantitative", "title": null, "scale": {"domain": [-3, 325], "nice": false, "zero": false}},
            "x2": {"field": "i2"},
            "y": {"field": "p1", "type": "quantitative", "title": null, "scale": {"domain": [1.169, 1.2577], "nice": false, "zero": false}},
            "y2": {"field": "p2"}
          }
        },
        {
          "data": {"name": "levels"},
          "mark": "rule",
          "encoding": {
            "y": {"field": "p", "type": "quantitative", "title": null, "scale": {"domain": [1.169, 1.2577], "nice": false, "zero": false}},
            "color": {"condition": [{"test": "datum.kind == 'price'", "value": "#c8c8c8"}, {"test": "datum.kind == 'fibo'", "value": "#0000ff"}], "value": "#2e2eff"},
            "strokeWidth": {"condition": {"test": "datum.kind == 'fibo'", "value": 2}, "value": 1}
          }
        },
        {
          "data": {"name": "chan"},
          "mark": {"type": "line", "color": "#0000ff", "strokeWidth": 1.5},
          "encoding": {
            "x": {"field": "i", "type": "quantitative", "title": null, "scale": {"domain": [-3, 325], "nice": false, "zero": false}},
            "y": {"field": "p", "type": "quantitative", "title": null, "scale": {"domain": [1.169, 1.2577], "nice": false, "zero": false}},
            "detail": {"field": "g", "type": "nominal"}
          }
        },
        {
          "data": {"name": "green"},
          "mark": {"type": "line", "color": "#7fff00", "strokeWidth": 1.5},
          "encoding": {
            "x": {"field": "i", "type": "quantitative", "title": null, "scale": {"domain": [-3, 325], "nice": false, "zero": false}},
            "y": {"field": "p", "type": "quantitative", "title": null, "scale": {"domain": [1.169, 1.2577], "nice": false, "zero": false}},
            "detail": {"field": "g", "type": "nominal"}
          }
        },
        {
          "data": {"name": "bars"},
          "mark": {"type": "rule", "strokeWidth": 1},
          "encoding": {
            "x": {"field": "i", "type": "quantitative", "title": null, "scale": {"domain": [-3, 325], "nice": false, "zero": false}},
            "y": {"field": "l", "type": "quantitative", "title": null, "scale": {"domain": [1.169, 1.2577], "nice": false, "zero": false}},
            "y2": {"field": "h"},
            "color": {"condition": {"test": "datum.c >= datum.o", "value": "#8c8c8c"}, "value": "#000000"}
          }
        },
        {
          "data": {"name": "bars"},
          "mark": {"type": "bar", "width": 2},
          "encoding": {
            "x": {"field": "i", "type": "quantitative", "title": null, "scale": {"domain": [-3, 325], "nice": false, "zero": false}},
            "y": {"field": "o", "type": "quantitative", "title": null, "scale": {"domain": [1.169, 1.2577], "nice": false, "zero": false}},
            "y2": {"field": "c"},
            "color": {"condition": {"test": "datum.c >= datum.o", "value": "#a8a8a8"}, "value": "#000000"}
          }
        },
        {
          "data": {"name": "levels"},
          "mark": {"type": "point", "shape": "M0,-1H6.6V1H0Z", "size": 100, "filled": true, "opacity": 1, "strokeWidth": 0},
          "encoding": {
            "x": {"datum": 325, "type": "quantitative", "scale": {"domain": [-3, 325], "nice": false, "zero": false}},
            "y": {"field": "p", "type": "quantitative", "title": null, "scale": {"domain": [1.169, 1.2577], "nice": false, "zero": false}},
            "color": {"condition": {"test": "datum.kind == 'price'", "value": "#000000"}, "value": "#0000ff"}
          }
        },
        {
          "data": {"name": "levels"},
          "mark": {"type": "text", "align": "left", "baseline": "middle", "dx": 4, "fontSize": 6.5, "color": "#ffffff"},
          "encoding": {
            "x": {"datum": 325, "type": "quantitative", "scale": {"domain": [-3, 325], "nice": false, "zero": false}},
            "y": {"field": "p", "type": "quantitative", "title": null, "scale": {"domain": [1.169, 1.2577], "nice": false, "zero": false}},
            "text": {"field": "p", "type": "quantitative", "format": ".4f"}
          }
        },
        {
          "data": {"name": "levels"},
          "transform": [{"filter": "isValid(datum.f)"}],
          "mark": {"type": "text", "align": "right", "baseline": "bottom", "dx": -2, "dy": -1, "fontSize": 6.5, "color": "#5555ff"},
          "encoding": {
            "x": {"datum": 325, "type": "quantitative", "scale": {"domain": [-3, 325], "nice": false, "zero": false}},
            "y": {"field": "p", "type": "quantitative", "title": null, "scale": {"domain": [1.169, 1.2577], "nice": false, "zero": false}},
            "text": {"field": "f", "type": "nominal"}
          }
        },
        {
          "data": {"values": [{"t": "2315 1.2283 1.2293"}]},
          "mark": {"type": "text", "align": "left", "baseline": "top", "dx": 1, "dy": 3, "fontSize": 6.5, "color": "#222222"},
          "encoding": {
            "x": {"datum": -3, "type": "quantitative", "scale": {"domain": [-3, 325], "nice": false, "zero": false}},
            "y": {"datum": 1.2577, "type": "quantitative", "scale": {"domain": [1.169, 1.2577], "nice": false, "zero": false}},
            "text": {"field": "t", "type": "nominal"}
          }
        }
      ]
    },
    {
      "width": 869,
      "height": 93,
      "layer": [
        {
          "data": {"name": "bars"},
          "mark": {"type": "bar", "width": 2, "color": "#c4c4c4"},
          "encoding": {
            "x": {
              "field": "i", "type": "quantitative", "title": null,
              "scale": {"domain": [-3, 325], "nice": false, "zero": false},
              "axis": {"title": null, "labels": false, "ticks": false, "domainWidth": 3, "domainColor": "#5a5a5a"}
            },
            "y": {
              "field": "m", "type": "quantitative", "title": null,
              "scale": {"domain": [-0.00985, 0.008], "nice": false, "zero": false},
              "axis": {
                "title": null, "orient": "right", "values": [0.00691, 0, -0.00917],
                "labelExpr": "datum.value === 0 ? '0.00' : format(datum.value, '.5f')",
                "labelOverlap": false,
                "tickSize": 2, "labelPadding": 1, "labelFontSize": 6, "domainWidth": 2, "domainColor": "#808080"
              }
            },
            "y2": {"datum": 0}
          }
        },
        {
          "data": {"name": "grid"},
          "mark": {"type": "rule", "strokeDash": [2, 2], "color": "#333333", "strokeWidth": 1},
          "encoding": {
            "x": {"field": "g", "type": "quantitative", "title": null, "scale": {"domain": [-3, 325], "nice": false, "zero": false}}
          }
        },
        {
          "data": {"name": "bars"},
          "mark": {"type": "line", "color": "#ff3030", "strokeWidth": 1},
          "encoding": {
            "x": {"field": "i", "type": "quantitative", "title": null, "scale": {"domain": [-3, 325], "nice": false, "zero": false}},
            "y": {"field": "s", "type": "quantitative", "title": null, "scale": {"domain": [-0.00985, 0.008], "nice": false, "zero": false}}
          }
        },
        {
          "data": {"name": "macdGreen"},
          "mark": {"type": "line", "color": "#7fff00", "strokeWidth": 1.5},
          "encoding": {
            "x": {"field": "i", "type": "quantitative", "title": null, "scale": {"domain": [-3, 325], "nice": false, "zero": false}},
            "y": {"field": "v", "type": "quantitative", "title": null, "scale": {"domain": [-0.00985, 0.008], "nice": false, "zero": false}},
            "detail": {"field": "g", "type": "nominal"}
          }
        },
        {
          "data": {"values": [{"t": "0.00339"}]},
          "mark": {"type": "text", "align": "left", "baseline": "top", "dx": 0, "dy": 2, "fontSize": 6.5, "color": "#222222"},
          "encoding": {
            "x": {"datum": -3, "type": "quantitative", "scale": {"domain": [-3, 325], "nice": false, "zero": false}},
            "y": {"datum": 0.008, "type": "quantitative", "scale": {"domain": [-0.00985, 0.008], "nice": false, "zero": false}},
            "text": {"field": "t", "type": "nominal"}
          }
        }
      ]
    },
    {
      "width": 869,
      "height": 90,
      "layer": [
        {
          "data": {"name": "bars"},
          "mark": {"type": "line", "color": "#b4b4b4", "strokeWidth": 1.2},
          "encoding": {
            "x": {
              "field": "i", "type": "quantitative", "title": null,
              "scale": {"domain": [-3, 325], "nice": false, "zero": false},
              "axis": {
                "title": null,
                "values": [0, 16, 32, 48, 64, 80, 96, 112, 128, 144, 160, 176, 192, 208, 224, 240, 256, 272],
                "labelExpr": "['17 Jan 20:00','20 Jan 12:00','25 Jan 04:00','27 Jan 20:00','1 Feb 12:00','6 Feb 04:00','8 Feb 20:00','13 Feb 12:00','16 Feb 04:00','20 Feb 20:00','23 Feb 12:00','28 Feb 04:00','2 Mar 20:00','7 Mar 12:00','10 Mar 04:00','14 Mar 20:00','17 Mar 12:00','22 Mar 04:00'][datum.value / 16]",
                "labelAlign": "left", "labelOffset": 2, "labelPadding": 3, "labelFlush": false, "labelOverlap": false,
                "tickSize": 3, "domainWidth": 1.5, "domainColor": "#555555"
              }
            },
            "y": {
              "field": "k", "type": "quantitative", "title": null,
              "scale": {"domain": [-358, 282], "nice": false, "zero": false},
              "axis": {
                "title": null, "orient": "right", "values": [245.9564, 0, -351.058],
                "labelExpr": "datum.value === 0 ? '0.00' : (datum.value > 0 ? '245.9564' : '-351.058')",
                "labelOverlap": false,
                "tickSize": 2, "labelPadding": 1, "labelFontSize": 6, "domainWidth": 2, "domainColor": "#808080"
              }
            }
          }
        },
        {
          "data": {"name": "grid"},
          "mark": {"type": "rule", "strokeDash": [2, 2], "color": "#333333", "strokeWidth": 1},
          "encoding": {
            "x": {"field": "g", "type": "quantitative", "title": null, "scale": {"domain": [-3, 325], "nice": false, "zero": false}}
          }
        },
        {
          "data": {"name": "cciGreen"},
          "mark": {"type": "line", "color": "#7fff00", "strokeWidth": 1.5},
          "encoding": {
            "x": {"field": "i", "type": "quantitative", "title": null, "scale": {"domain": [-3, 325], "nice": false, "zero": false}},
            "y": {"field": "k", "type": "quantitative", "title": null, "scale": {"domain": [-358, 282], "nice": false, "zero": false}}
          }
        }
      ]
    }
  ],
  "config": {
    "font": "Liberation Sans",
    "view": {"stroke": null},
    "axis": {
      "grid": false,
      "labelFont": "Liberation Sans",
      "labelFontSize": 6.5,
      "labelColor": "#000000",
      "tickColor": "#222222",
      "labelOverlap": false
    }
  }
}
